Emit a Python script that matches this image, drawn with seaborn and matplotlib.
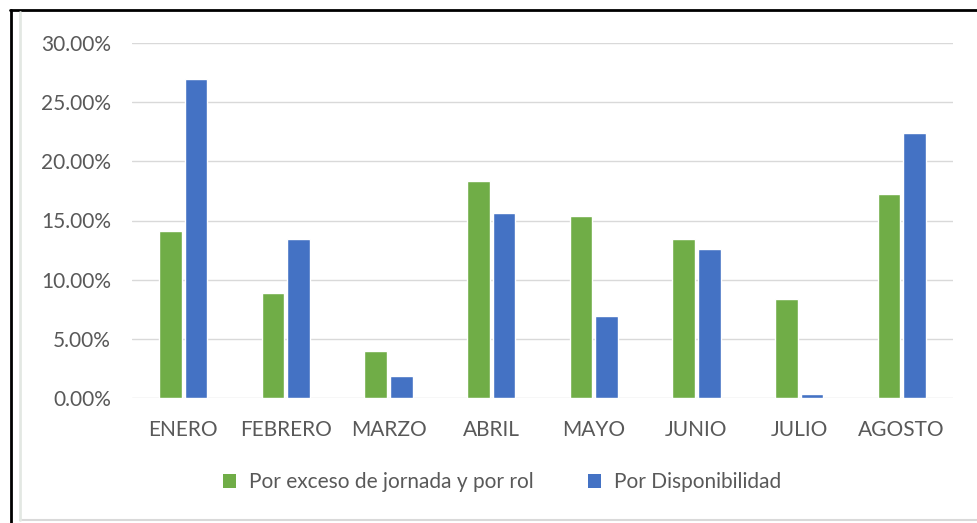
import matplotlib
matplotlib.use("Agg")
import matplotlib.pyplot as plt
import seaborn as sns
import pandas as pd
from matplotlib.ticker import PercentFormatter, MultipleLocator
from matplotlib.lines import Line2D
from matplotlib.patches import Patch

meses = ["ENERO", "FEBRERO", "MARZO", "ABRIL", "MAYO", "JUNIO", "JULIO", "AGOSTO"]
exceso = [14.1, 8.9, 4.0, 18.3, 15.4, 13.4, 8.4, 17.2]
disponibilidad = [27.0, 13.4, 1.9, 15.6, 6.9, 12.6, 0.3, 22.4]
series = ["Por exceso de jornada y por rol", "Por Disponibilidad"]
colores = ["#70AD47", "#4472C4"]

df = pd.DataFrame({
    "mes": meses * 2,
    "valor": exceso + disponibilidad,
    "serie": [series[0]] * len(meses) + [series[1]] * len(meses),
})

sns.set_theme(style="white")
plt.rcParams["font.family"] = ["Lato", "DejaVu Sans"]

fig = plt.figure(figsize=(9.77, 5.23), dpi=100)
ax = fig.add_axes([132 / 977, 1 - 398 / 523, (953 - 132) / 977, (398 - 43) / 523])

sns.barplot(data=df, x="mes", y="valor", hue="serie", order=meses,
            hue_order=series, palette=colores, width=0.5, gap=0.12,
            saturation=1, ax=ax, legend=False, zorder=3)

ax.set_ylim(0, 30)
ax.set_xlim(-0.5, len(meses) - 0.5)
ax.yaxis.set_major_locator(MultipleLocator(5))
ax.yaxis.set_major_formatter(PercentFormatter(decimals=2))
ax.grid(axis="y", color="#D9D9D9", linewidth=1, zorder=0)
for s in ax.spines.values():
    s.set_visible(False)
ax.set_xlabel("")
ax.set_ylabel("")
ax.tick_params(axis="both", length=0, colors="#595959", labelsize=15)
ax.tick_params(axis="y", pad=15)
ax.tick_params(axis="x", pad=16)

handles = [Patch(facecolor=c, edgecolor="none") for c in colores]
fig.legend(handles, series, loc="center", bbox_to_anchor=(502 / 977, 1 - 482 / 523),
           ncol=2, frameon=False, fontsize=15, labelcolor="#595959",
           handlelength=0.65, handleheight=0.65, handletextpad=0.6, columnspacing=2.6)

# screenshot frame
fig.add_artist(Line2D([10 / 977, 1], [1 - 10 / 523, 1 - 10 / 523], color="black", lw=2, transform=fig.transFigure))
fig.add_artist(Line2D([11 / 977, 11 / 977], [0, 1 - 10 / 523], color="black", lw=2, transform=fig.transFigure))
fig.add_artist(Line2D([20 / 977, 1], [1 - 520 / 523, 1 - 520 / 523], color="#D9D9D9", lw=1.5, transform=fig.transFigure))
fig.add_artist(Line2D([20 / 977, 20 / 977], [1 - 520 / 523, 1 - 12 / 523], color="#E3E8E3", lw=2, transform=fig.transFigure))

fig.savefig("out.png", dpi=100)
